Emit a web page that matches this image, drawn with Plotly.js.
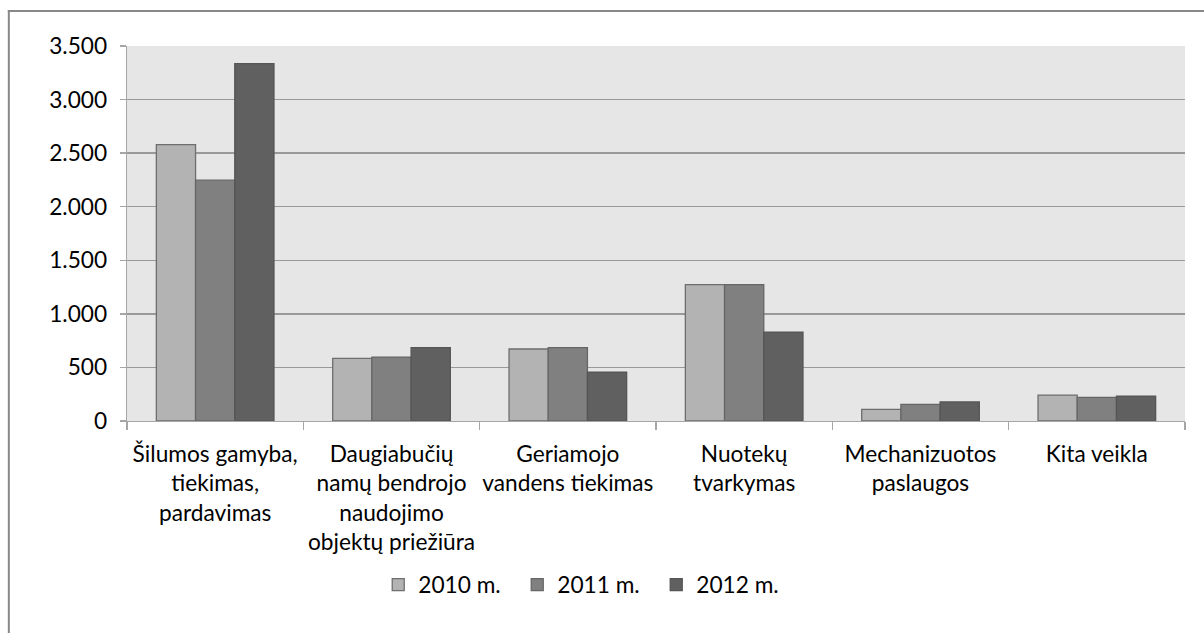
<!DOCTYPE html>
<html>
<head>
<meta charset="utf-8">
<script src="https://cdn.plot.ly/plotly-3.0.1.min.js"></script>
<style>
html,body{margin:0;padding:0;background:#fff;overflow:hidden;}
#chart{width:1204px;height:633px;}
</style>
</head>
<body>
<div id="chart"></div>
<script>
const categories = [
  "Šilumos gamyba,<br>tiekimas,<br>pardavimas",
  "Daugiabučių<br>namų bendrojo<br>naudojimo<br>objektų priežiūra",
  "Geriamojo<br>vandens tiekimas",
  "Nuotekų<br>tvarkymas",
  "Mechanizuotos<br>paslaugos",
  "Kita veikla"
];
const seriesNames = ["2010 m.", "2011 m.", "2012 m."];
const values2010 = [2580, 585, 672, 1272, 109, 242];
const values2011 = [2248, 597, 684, 1272, 156, 221];
const values2012 = [3336, 684, 455, 830, 178, 233];
const yTickVals = [0, 500, 1000, 1500, 2000, 2500, 3000, 3500];

const fills = ["#b3b3b3", "#808080", "#606060"];
const outlines = ["#6e6e6e", "#666666", "#555555"];
const allValues = [values2010, values2011, values2012];

const FONT = "Lato, 'Open Sans', sans-serif";
const FS = 22.7;

const traces = allValues.map((v, i) => ({
  type: "bar",
  name: seriesNames[i],
  x: categories,
  y: v,
  marker: {color: fills[i], line: {color: outlines[i], width: 1.3}},
  hoverinfo: "y+name"
}));

const L = 126.7, R = 1185, T = 45.7, B = 421;
const W = R - L, H = B - T;
const px = x => (x - L) / W;
const py = y => (B - y) / H;

const layout = {
  width: 1204,
  height: 633,
  margin: {l: L, r: 1204 - R, t: T, b: 633 - B, pad: 0},
  paper_bgcolor: "#ffffff",
  plot_bgcolor: "#e6e6e6",
  separators: ",.",
  barmode: "group",
  bargap: 0.333,
  bargroupgap: 0,
  font: {family: FONT, size: FS, color: "#000"},
  showlegend: true,
  legend: {
    orientation: "h",
    x: px(378), xanchor: "left",
    y: py(585), yanchor: "middle",
    font: {family: FONT, size: FS, color: "#000"},
    itemwidth: 30,
    entrywidth: 94,
    entrywidthmode: "pixels",
    tracegroupgap: 0,
    traceorder: "normal",
    bgcolor: "rgba(0,0,0,0)"
  },
  xaxis: {
    type: "category",
    tickangle: 0,
    tickson: "boundaries",
    ticks: "outside",
    ticklen: 8,
    tickcolor: "#a6a6a6",
    tickwidth: 1.3,
    ticklabelstandoff: 12,
    showline: true,
    linecolor: "#a6a6a6",
    linewidth: 1.3,
    showgrid: false,
    zeroline: false,
    tickfont: {family: FONT, size: FS, color: "#000"},
    fixedrange: true
  },
  yaxis: {
    range: [0, 3500],
    tickvals: yTickVals,
    tickformat: ",d",
    ticks: "outside",
    ticklen: 6,
    tickcolor: "#a6a6a6",
    tickwidth: 1.3,
    ticklabelstandoff: 8,
    showline: true,
    linecolor: "#a6a6a6",
    linewidth: 1.3,
    showgrid: true,
    gridcolor: "#999999",
    gridwidth: 1.3,
    zeroline: false,
    tickfont: {family: FONT, size: FS, color: "#000"},
    fixedrange: true
  },
  shapes: [
    {type: "line", xref: "paper", yref: "paper", x0: px(8.5), x1: px(8.5), y0: py(10), y1: py(640), line: {color: "#888888", width: 2}},
    {type: "line", xref: "paper", yref: "paper", x0: px(7.5), x1: px(1210), y0: py(10.7), y1: py(10.7), line: {color: "#888888", width: 2}}
  ]
};

Plotly.newPlot("chart", traces, layout, {displayModeBar: false, staticPlot: true});
</script>
</body>
</html>
